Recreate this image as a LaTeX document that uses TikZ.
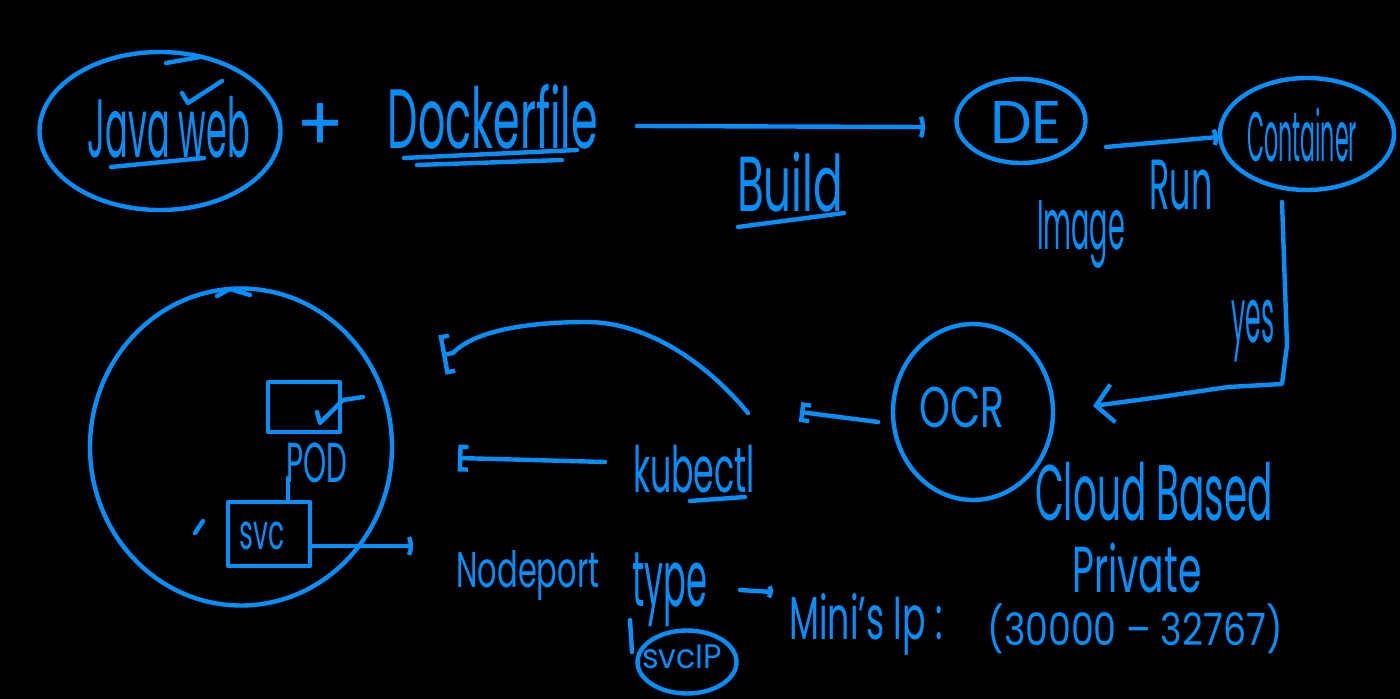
\documentclass[tikz,border=0pt]{standalone}
\usepackage{fontspec}
\setmainfont{Poppins}
\usetikzlibrary{arrows.meta,shapes.geometric}
\definecolor{ink}{RGB}{8,142,250}
\newdimen\pxu \pxu=0.5pt
\newcommand\fitt[3]{\resizebox*{#1\pxu}{#2\pxu}{#3}}
\tikzset{
  stroke/.style={draw=ink, line width=2.2pt, line cap=round, line join=round},
  lbl/.style={inner sep=0pt, outer sep=0pt, text=ink},
  oval/.style={stroke, ellipse, inner sep=0pt},
  box/.style={stroke, rectangle, inner sep=0pt},
  paren/.style={stroke, -{Parenthesis[width=#1, length=3pt]}},
  brack/.style={stroke, -{Bracket[width=#1, length=4pt]}},
  barb/.style={stroke, -{Straight Barb[width=#1, length=8.5pt]}}
}
\begin{document}
\begin{tikzpicture}[x=0.5pt, y=-0.5pt]
\fill[black] (0,0) rectangle (1400,699);
\useasboundingbox (0,0) rectangle (1400,699);

% top row
\node[oval, minimum width=120.5pt, minimum height=79pt] (javaE) at (160,131) {};
\node[lbl] (javaT) at (169,127) {\fitt{162}{62}{Java web}};
\node[lbl] (plusT) at (320,128) {\fitt{48}{48}{+}};
\node[lbl] (dockT) at (493,117) {\fitt{210}{65}{Dockerfile}};
\node[lbl] (buildT) at (790,182) {\fitt{106}{60}{Build}};
\node[oval, minimum width=64.5pt, minimum height=42pt] (deE) at (1021,121) {};
\node[lbl] (deT) at (1026,122) {\fitt{72}{42}{DE}};
\node[oval, minimum width=87pt, minimum height=56pt] (contE) at (1307,134) {};
\node[lbl] (contT) at (1302,135) {\fitt{110}{54}{Container}};
\node[lbl] (runT) at (1181,185) {\fitt{63}{50}{Run}};
\node[lbl] (imgT) at (1081,234) {\fitt{88}{68}{Image}};
\node[lbl] (yesT) at (1253,331) {\fitt{43}{62}{yes}};

% right middle
\node[oval, minimum width=80pt, minimum height=88pt] (ocrE) at (973,412) {};
\node[lbl] (ocrT) at (962,407) {\fitt{85}{41}{OCR}};
\node[lbl] (cloudT) at (1154,492) {\fitt{238}{59}{Cloud Based}};
\node[lbl] (privT) at (1137,568) {\fitt{129}{50}{Private}};
\node[lbl] (rangeT) at (1135,629) {\fitt{295}{50}{(30000 – 32767)}};
\node[lbl] (miniT) at (866,624) {\fitt{153}{62}{Mini's Ip :}};

% bottom middle
\node[lbl] (nodeT) at (528,575) {\fitt{143}{50}{Nodeport}};
\node[lbl] (typeT) at (670,590) {\fitt{75}{74}{type}};
\node[oval, minimum width=49.5pt, minimum height=31.5pt] (svcipE) at (687,662) {};
\node[lbl] (svcipT) at (682,657) {\fitt{80}{24}{svcIP}};
\node[lbl] (kubeT) at (694,469) {\fitt{122}{48}{kubectl}};

% cluster
\node[oval, minimum width=151pt, minimum height=158.5pt] (clusterE) at (241,447) {};
\node[box, minimum width=36pt, minimum height=25pt] (podR) at (304,407) {};
\node[lbl] (podT) at (317,463) {\fitt{61}{40}{POD}};
\node[box, minimum width=41pt, minimum height=32pt] (svcR) at (269,534) {};
\node[lbl] (svcT) at (262,536) {\fitt{45}{28}{svc}};

% underlines and marks
\draw[stroke] (111,167) -- (204,158);
\draw[stroke] (182,93) -- (188,103) -- (222,81);
\draw[stroke] (166,63) -- (200,57);
\draw[stroke] (404,158) -- (577,150);
\draw[stroke] (417,165) -- (562,160);
\draw[stroke] (738,227) -- (844,213);
\draw[stroke] (690,501) -- (745,497);
\draw[stroke] (217,296) -- (230,289) -- (250,295);
\draw[stroke] (317,412) -- (320,423) -- (343,400) -- (363,397);
\draw[stroke] (195,533) -- (203,521);
\draw[stroke] (630,620) -- (632,652);

% connector end points
\coordinate (a1s) at (637,126);
\coordinate (a1e) at (925,127);
\coordinate (a2s) at (1106,147);
\coordinate (a2e) at (1218,137);
\coordinate (a3s) at (1282,202);
\coordinate (a3e) at (1093,406);
\coordinate (a4s) at (878,422);
\coordinate (a4e) at (800,412);
\coordinate (a5s) at (748,413);
\coordinate (a5e) at (442,355);
\coordinate (a6s) at (605,462);
\coordinate (a6e) at (458,458);
\coordinate (a7s) at (310,546);
\coordinate (a7e) at (413,546);
\coordinate (a8s) at (740,590);
\coordinate (a8e) at (773,592);
\coordinate (stemA) at (288,478);

% connectors
\draw[paren=14pt] (a1s) -- (a1e);
\draw[paren=11pt] (a2s) -- (a2e);
\draw[barb=19pt] (a3s) -- (1287,345) -- (1282,384) -- (1228,387) -- (1160,397) -- (a3e);
\draw[brack=10pt] (a4s) -- (a4e);
\draw[brack=20pt] (a5s) .. controls (700,355) and (640,322) .. (587,322)
   .. controls (530,322) and (475,330) .. (453,353) -- (a5e);
\draw[brack=13.5pt] (a6s) -- (a6e);
\draw[paren=12.5pt] (a7s) -- (a7e);
\draw[paren=8.5pt] (a8s) -- (a8e);
\draw[stroke] (stemA) -- (svcR.north -| stemA);
\end{tikzpicture}
\end{document}
